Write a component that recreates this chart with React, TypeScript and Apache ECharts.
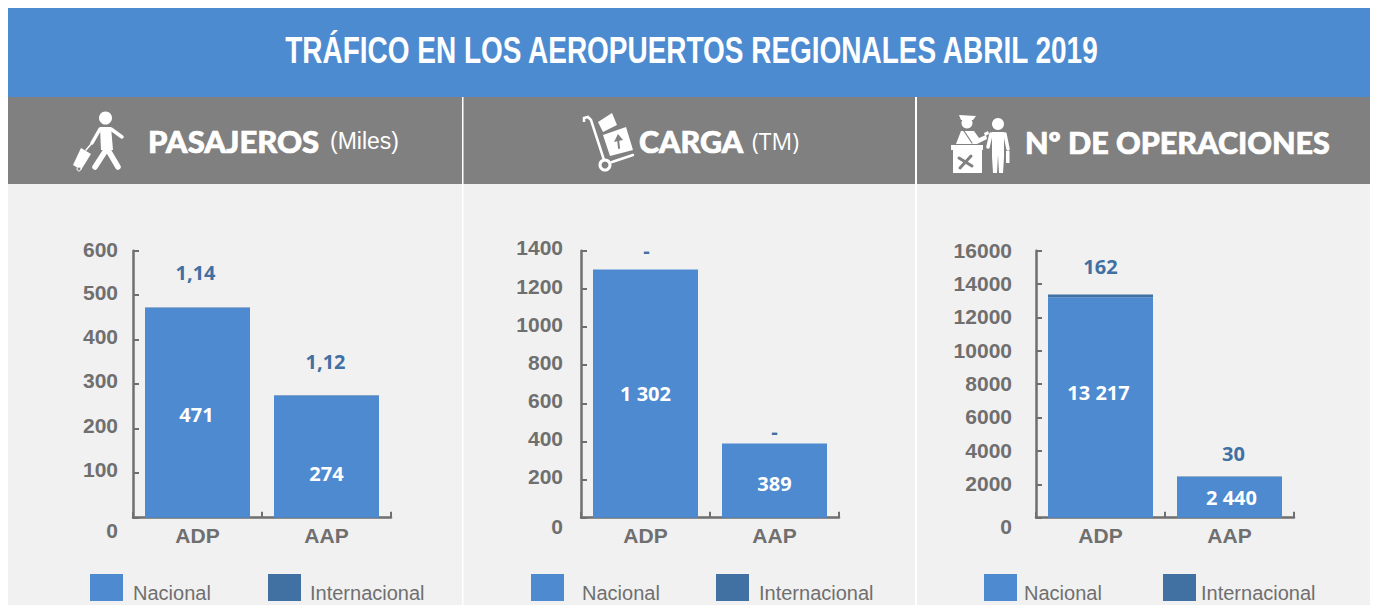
import React, { useEffect, useRef } from "react";
import * as echarts from "echarts";

const categories = ["ADP", "AAP"];
const pasajerosNacional = [471, 274];
const pasajerosInternacional = [1.14, 1.12];
const cargaNacional = [1302, 389];
const cargaInternacional = [0, 0];
const operacionesNacional = [13217, 2440];
const operacionesInternacional = [162, 30];
const pasajerosIntlLabels = ["1,14", "1,12"];
const cargaIntlLabels = ["-", "-"];
const operacionesIntlLabels = ["162", "30"];
const pasajerosNacLabels = ["471", "274"];
const cargaNacLabels = ["1 302", "389"];
const operacionesNacLabels = ["13 217", "2 440"];
const seriesNames = ["Nacional", "Internacional"];

const BLUE = "#4d8ad0";
const DARK = "#4170a3";
const GREY = "#6f6f6f";
const HEAD = "#808080";
const PANEL = "#f1f1f1";
const SANS = "'Liberation Sans', Arial, sans-serif";
const OPEN = "'Open Sans', sans-serif";

const charts = [
  {
    left: 133, max: 600, interval: 100, nac: pasajerosNacional, intl: pasajerosInternacional,
    nacLabels: pasajerosNacLabels, intlLabels: pasajerosIntlLabels,
    nacOff: [[-1, 2], [0, 17]], intlOff: [[-2, -20], [-1, -19]], margin: 15,
    tickShift: { 100: -3.5, 200: -3.5, 300: -3.5, 400: -3, 500: -2.5, 600: -1 } as any, zeroShift: 13,
    legend: [90, 268], legendPad: [5, 4],
  },
  {
    left: 581, max: 1400, interval: 200, nac: cargaNacional, intl: cargaInternacional,
    nacLabels: cargaNacLabels, intlLabels: cargaIntlLabels,
    nacOff: [[0, 0], [0, 3]], intlOff: [[1, -4], [0, 3]], margin: 18,
    tickShift: {} as any, zeroShift: 8.5,
    legend: [531, 716], legendPad: [13, 5],
  },
  {
    left: 1036, max: 16000, interval: 2000, nac: operacionesNacional, intl: operacionesInternacional,
    nacOff: [[-2, -15], [2, 0]], intlOff: [[0, -13], [4, -8]], margin: 24,
    nacLabels: operacionesNacLabels, intlLabels: operacionesIntlLabels,
    tickShift: {} as any, zeroShift: 8.5,
    legend: [984, 1163], legendPad: [2, 0],
  },
];
const defaultShift = [-2.5, -2.8, -0.6];

const white = { fill: "#fff" };
const wl = (x1: number, y1: number, x2: number, y2: number, w: number, color = "#fff") => ({
  type: "line", shape: { x1, y1, x2, y2 }, style: { stroke: color, lineWidth: w, lineCap: "round" },
});
const poly = (points: number[][], fill = "#fff") => ({ type: "polygon", shape: { points }, style: { fill } });
const circ = (cx: number, cy: number, r: number) => ({ type: "circle", shape: { cx, cy, r }, style: white });
const txt = (x: number, y: number, text: string, font: string, size: number, weight: any, extra: any = {}, el: any = {}) => ({
  type: "text", x, y, ...el,
  style: { text, fill: "#fff", fontFamily: font, fontSize: size, fontWeight: weight, verticalAlign: "middle", ...extra },
});
const heavy = { stroke: "#fff", lineWidth: 0.7 };

const walker = [
  circ(105.5, 118, 6.5),
  poly([[100, 127], [111, 127], [113, 150], [101, 150]]),
  wl(106, 150, 95, 167, 5.5), wl(108, 150, 118, 167, 5.5),
  wl(111, 129, 122, 137, 3.5), wl(100, 129, 92, 143, 3.5),
  poly([[81, 148], [91, 154], [81, 170], [73, 165]]),
  wl(86, 150, 92, 143, 1.5),
  { type: "circle", shape: { cx: 79, cy: 169, r: 2 }, style: { fill: HEAD, stroke: "#fff", lineWidth: 1 } },
];
const cart = [
  { type: "polyline", shape: { points: [[584, 122], [584, 118], [588, 117], [591, 120], [604, 160]] }, style: { stroke: "#fff", lineWidth: 2.5, fill: "none" } },
  { type: "circle", shape: { cx: 605, cy: 165, r: 5 }, style: { fill: HEAD, stroke: "#fff", lineWidth: 3 } },
  wl(612, 162, 633, 155, 2.5),
  poly([[603, 135], [626, 127], [633, 150], [610, 156]]),
  poly([[598, 122], [612, 113], [617, 125], [603, 132]]),
  wl(619, 148, 618, 139, 2, HEAD),
  poly([[618, 134], [623, 140], [614, 142]], HEAD),
];
const officer = [
  { type: "rect", shape: { x: 953, y: 150, width: 29, height: 23 }, style: white },
  { type: "rect", shape: { x: 951, y: 145, width: 32, height: 5 }, style: white },
  wl(959, 158, 972, 166, 3, HEAD), wl(971, 156, 960, 168, 3, HEAD),
  poly([[959, 115], [976, 116], [973, 120], [961, 120]]),
  circ(967, 123, 5.5),
  poly([[956, 144], [961, 131], [974, 131], [979, 138], [986, 135], [987, 139], [977, 144]]),
  wl(964, 131, 972, 143, 1.2, HEAD),
  poly([[984, 133], [988, 131], [989, 134], [985, 136]]),
  circ(998, 124, 6),
  poly([[992, 132], [1004, 132], [1004, 157], [1003, 173], [999, 173], [998, 155], [997, 173], [993, 173], [992, 157]]),
  wl(991, 134, 988, 147, 3.5), wl(1005, 134, 1008, 149, 3.5),
  { type: "rect", shape: { x: 1006, y: 151, width: 3.5, height: 12 }, style: white },
];

export default function App() {
  const ref = useRef<HTMLDivElement>(null);
  useEffect(() => {
    document.body.style.margin = "0";
    const chart = echarts.init(ref.current!, null, { renderer: "svg" });
    const grids = charts.map((c) => ({ left: c.left, width: 258, top: 250.7, height: 267 }));
    const axisLine = { show: true, lineStyle: { color: GREY, width: 2.5 } };
    const tickStyle = { show: true, inside: true, length: 6, lineStyle: { color: GREY, width: 2 } };
    const series: any[] = [];
    const legends: any[] = [];
    charts.forEach((c, i) => {
      const stack = "s" + i;
      series.push({
        name: seriesNames[0], type: "bar", stack, xAxisIndex: i, yAxisIndex: i, barWidth: 105,
        itemStyle: { color: BLUE },
        data: c.nac.map((v, k) => ({
          value: v,
          label: { show: true, position: "inside", offset: c.nacOff[k], formatter: c.nacLabels[k], color: "#fff", fontFamily: OPEN, fontWeight: 700, fontSize: 20 },
        })),
      });
      series.push({
        name: seriesNames[1], type: "bar", stack, xAxisIndex: i, yAxisIndex: i, barWidth: 105,
        itemStyle: { color: DARK },
        data: c.intl.map((v, k) => ({
          value: v,
          label: { show: true, position: "top", offset: c.intlOff[k], formatter: c.intlLabels[k], color: DARK, fontFamily: OPEN, fontWeight: 700, fontSize: 20 },
        })),
      });
      seriesNames.forEach((n, k) => {
        legends.push({
          data: [n], left: c.legend[k], top: 574, itemWidth: 33, itemHeight: 27, padding: 0,
          selectedMode: false, icon: "rect",
          formatter: (name: string) => `{t|${name}}`,
          textStyle: {
            rich: { t: { color: GREY, fontFamily: SANS, fontSize: 20, padding: [11, 0, 0, c.legendPad[k]] } },
          },
        });
      });
    });
    chart.setOption({
      animation: false,
      backgroundColor: "#fff",
      grid: grids,
      legend: legends,
      xAxis: charts.map((c, i) => ({
        type: "category", gridIndex: i, data: categories,
        axisLine, axisTick: tickStyle,
        axisLabel: { color: GREY, fontFamily: SANS, fontWeight: 700, fontSize: 21, margin: 7 },
      })),
      yAxis: charts.map((c, i) => ({
        type: "value", gridIndex: i, min: 0, max: c.max, interval: c.interval,
        splitLine: { show: false },
        axisLine, axisTick: tickStyle,
        axisLabel: {
          margin: c.margin,
          formatter: (v: number) => {
            if (v === 0) return `{z|0}`;
            const s = c.tickShift[v] ?? defaultShift[i];
            return `{s${Math.round(-s * 10)}|${v}}`;
          },
          rich: Object.assign(
            { z: { color: GREY, fontFamily: SANS, fontWeight: 700, fontSize: 21, padding: [2 * c.zeroShift, 0, 0, 0] } },
            ...[...new Set([...Object.values(c.tickShift), defaultShift[i]] as number[])].map((s) => ({
              ["s" + Math.round(-s * 10)]: { color: GREY, fontFamily: SANS, fontWeight: 700, fontSize: 21, padding: [0, 0, -2 * s, 0] },
            })),
          ),
        },
      })),
      series,
      graphic: [
        { type: "rect", z: -5, shape: { x: 8, y: 184, width: 1362, height: 421 }, style: { fill: PANEL } },
        { type: "rect", z: -4, shape: { x: 8, y: 8, width: 1362, height: 89 }, style: { fill: "#4d8bd1" } },
        { type: "rect", z: -4, shape: { x: 8, y: 97, width: 1362, height: 87 }, style: { fill: HEAD } },
        { type: "rect", z: -3, shape: { x: 462, y: 97, width: 1.5, height: 508 }, style: { fill: "#fff" } },
        { type: "rect", z: -3, shape: { x: 915, y: 97, width: 2, height: 508 }, style: { fill: "#fff" } },
        txt(691.5, 51, "TRÁFICO EN LOS AEROPUERTOS REGIONALES ABRIL 2019", SANS, 36, 700, { align: "center" }, { scaleX: 0.777 }),
        txt(148, 141, "PASAJEROS", "Lato", 31, 900, heavy),
        txt(330, 141, "(Miles)", SANS, 23, 400),
        txt(639, 141, "CARGA", "Lato", 30.5, 900, heavy),
        txt(752, 141, "(TM)", OPEN, 23, 400),
        txt(1025, 142, "Nº DE OPERACIONES", "Lato", 30.5, 900, heavy),
        { type: "group", children: walker },
        { type: "group", children: cart },
        { type: "group", children: officer },
      ],
    });
    return () => chart.dispose();
  }, []);
  return <div ref={ref} style={{ width: 1375, height: 605 }} />;
}
